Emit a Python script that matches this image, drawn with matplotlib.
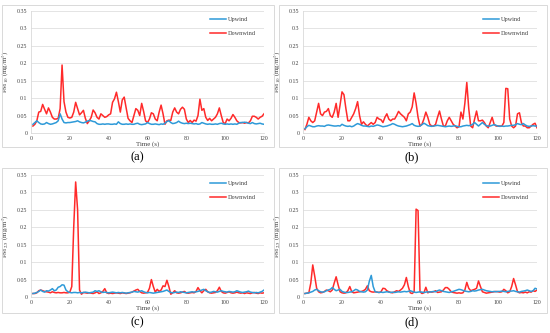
import matplotlib
matplotlib.use("Agg")
import matplotlib.pyplot as plt
from matplotlib.patches import Rectangle

plt.rcParams['font.family'] = ['Liberation Serif', 'DejaVu Serif']
plt.rcParams['mathtext.fontset'] = 'stix'

time_s = list(range(1, 121))

a_up = [.025, .030, .035, .030, .026, .025, .026, .030, .027, .025, .026, .028, .030, .035, .055, .040, .030, .029, .030, .030,
        .031, .032, .033, .035, .032, .030, .029, .031, .034, .036, .035, .033, .032, .027, .025, .025, .026, .025, .026, .026,
        .025, .025, .026, .025, .032, .027, .025, .025, .026, .025, .026, .025, .025, .027, .028, .025, .024, .025, .026, .030,
        .027, .025, .025, .026, .025, .024, .026, .025, .028, .033, .035, .030, .027, .028, .030, .034, .030, .028, .027, .028,
        .027, .028, .027, .026, .027, .025, .026, .030, .028, .026, .025, .026, .025, .025, .026, .025, .027, .028, .026, .025,
        .026, .025, .026, .025, .026, .025, .028, .030, .030, .031, .030, .028, .027, .030, .027, .026, .027, .028, .026, .025]
a_down = [.020, .025, .035, .060, .062, .082, .068, .055, .072, .060, .045, .040, .040, .042, .070, .195, .090, .060, .045, .043,
          .045, .060, .088, .070, .052, .058, .065, .042, .027, .035, .045, .066, .058, .045, .040, .055, .050, .045, .047, .052,
          .055, .088, .098, .117, .090, .060, .095, .103, .072, .042, .035, .030, .050, .070, .065, .050, .085, .062, .035, .030,
          .040, .058, .055, .040, .035, .060, .080, .055, .025, .035, .037, .036, .060, .072, .060, .055, .068, .074, .068, .040,
          .030, .036, .030, .037, .034, .050, .097, .065, .070, .045, .036, .042, .035, .040, .045, .055, .072, .050, .030, .027,
          .040, .035, .042, .053, .045, .035, .030, .029, .030, .028, .030, .029, .035, .048, .048, .045, .040, .045, .048, .055]

b_up = [.012, .018, .022, .020, .018, .018, .020, .021, .020, .020, .019, .022, .023, .022, .021, .020, .020, .021, .020, .025,
        .022, .020, .019, .020, .018, .020, .024, .027, .025, .022, .020, .020, .019, .018, .020, .019, .021, .023, .022, .020,
        .018, .019, .020, .022, .024, .027, .025, .022, .020, .019, .018, .019, .020, .022, .024, .027, .022, .020, .019, .020,
        .024, .028, .025, .021, .020, .019, .020, .021, .022, .021, .020, .019, .018, .019, .020, .019, .020, .021, .019, .018,
        .018, .020, .021, .022, .021, .022, .025, .030, .025, .020, .025, .030, .025, .021, .020, .020, .022, .024, .022, .020,
        .019, .020, .019, .020, .020, .021, .022, .022, .024, .027, .025, .024, .027, .023, .020, .019, .020, .021, .020, .020]
b_down = [.010, .025, .045, .035, .030, .035, .060, .085, .055, .050, .060, .062, .070, .050, .045, .060, .085, .045, .080, .118,
          .110, .070, .035, .035, .045, .055, .070, .090, .050, .025, .032, .025, .020, .025, .030, .025, .030, .045, .040, .038,
          .030, .045, .055, .040, .035, .040, .040, .050, .062, .055, .050, .045, .035, .055, .060, .075, .115, .085, .045, .020,
          .025, .040, .060, .045, .025, .020, .020, .025, .045, .063, .040, .020, .020, .035, .045, .035, .025, .020, .015, .018,
          .060, .040, .085, .145, .070, .020, .015, .040, .063, .035, .035, .037, .030, .020, .015, .030, .045, .025, .020, .020,
          .020, .020, .030, .128, .127, .040, .020, .015, .020, .055, .058, .030, .020, .020, .015, .015, .020, .025, .028, .015]

c_up = [.010, .011, .013, .016, .020, .016, .014, .018, .017, .020, .024, .018, .020, .028, .030, .035, .034, .020, .015, .013,
        .012, .013, .013, .012, .013, .012, .013, .014, .013, .012, .013, .014, .018, .016, .018, .015, .013, .014, .013, .012,
        .013, .014, .013, .012, .013, .012, .013, .012, .011, .012, .013, .014, .016, .015, .014, .016, .018, .015, .013, .012,
        .013, .012, .011, .012, .013, .014, .015, .016, .018, .020, .016, .013, .012, .013, .014, .013, .015, .014, .013, .012,
        .013, .014, .015, .014, .015, .016, .018, .020, .022, .018, .015, .013, .014, .016, .015, .014, .016, .018, .016, .015,
        .014, .016, .015, .014, .015, .018, .016, .014, .013, .014, .015, .017, .014, .013, .012, .013, .012, .014, .016, .020]
c_down = [.010, .010, .012, .018, .020, .018, .016, .015, .014, .012, .015, .013, .012, .013, .012, .012, .013, .012, .012, .014,
          .030, .200, .330, .250, .020, .008, .013, .012, .011, .012, .011, .010, .012, .015, .010, .012, .016, .024, .012, .010,
          .011, .010, .011, .012, .011, .010, .012, .011, .010, .011, .012, .014, .017, .020, .022, .016, .012, .011, .012, .013,
          .025, .050, .030, .014, .022, .016, .020, .032, .030, .048, .030, .008, .012, .018, .012, .011, .012, .014, .016, .012,
          .011, .012, .013, .012, .016, .027, .018, .012, .018, .022, .015, .012, .011, .012, .013, .018, .028, .016, .012, .011,
          .013, .015, .012, .011, .012, .014, .012, .011, .012, .010, .012, .011, .010, .012, .013, .011, .010, .012, .011, .012]

d_up = [.010, .011, .012, .014, .016, .020, .022, .018, .015, .014, .015, .018, .020, .022, .027, .022, .018, .020, .022, .016,
        .014, .013, .013, .014, .015, .018, .022, .020, .016, .015, .014, .015, .020, .045, .062, .030, .015, .014, .013, .014,
        .013, .014, .015, .014, .013, .014, .013, .014, .015, .014, .015, .016, .015, .016, .018, .016, .014, .013, .014, .015,
        .014, .013, .014, .015, .014, .015, .016, .015, .018, .020, .018, .016, .015, .014, .013, .015, .016, .018, .020, .022,
        .021, .019, .017, .016, .015, .016, .018, .017, .018, .020, .021, .022, .020, .018, .017, .016, .015, .016, .015, .016,
        .016, .017, .016, .015, .016, .017, .017, .018, .016, .015, .014, .016, .017, .018, .020, .018, .016, .018, .025, .023]
d_down = [.010, .011, .012, .040, .092, .060, .025, .015, .012, .013, .016, .020, .018, .015, .020, .040, .058, .035, .015, .012,
          .011, .012, .018, .030, .015, .012, .013, .014, .015, .016, .018, .022, .032, .018, .015, .014, .015, .014, .013, .015,
          .025, .024, .018, .015, .013, .012, .015, .018, .016, .020, .025, .035, .056, .030, .012, .010, .015, .252, .248, .015,
          .010, .012, .028, .012, .015, .014, .015, .018, .013, .014, .015, .020, .027, .027, .022, .015, .013, .012, .011, .012,
          .011, .012, .020, .042, .025, .018, .020, .022, .025, .046, .030, .015, .013, .011, .012, .013, .014, .015, .016, .015,
          .014, .015, .022, .018, .012, .015, .030, .053, .035, .015, .012, .013, .012, .014, .012, .015, .014, .018, .016, .020]

panels = [
    ("(a)", "PM$_{10}$ (mg/m$^3$)", a_up, a_down),
    ("(b)", "PM$_{10}$ (mg/m$^3$)", b_up, b_down),
    ("(c)", "PM$_{2.5}$ (mg/m$^3$)", c_up, c_down),
    ("(d)", "PM$_{2.5}$ (mg/m$^3$)", d_up, d_down),
]

y_ticks = [0, 0.05, 0.1, 0.15, 0.2, 0.25, 0.3, 0.35]
y_tick_labels = ["0", "0.05", "0.1", "0.15", "0.2", "0.25", "0.3", "0.35"]
x_ticks = [0, 20, 40, 60, 80, 100, 120]

W, H = 550, 333
fig = plt.figure(figsize=(5.5, 3.33), dpi=100)

# pixel layout: axes box, frame box, label centre
axes_px = [(31, 11, 264, 133), (303, 11, 537, 133), (31, 175, 264, 297), (303, 175, 537, 297)]
frame_px = [(2, 5, 274, 147), (279, 5, 547, 147), (2, 168, 274, 313), (279, 168, 547, 313)]
label_px = [(137, 157), (412, 157), (137, 322), (412, 322)]

grid_c = "#d9d9d9"
for (lab, ylab, up, down), (x0, y0, x1, y1), fr, lp in zip(panels, axes_px, frame_px, label_px):
    fig.patches.append(Rectangle((fr[0] / W, 1 - fr[3] / H), (fr[2] - fr[0]) / W, (fr[3] - fr[1]) / H,
                                 transform=fig.transFigure, fill=False, edgecolor=grid_c, linewidth=0.7))
    ax = fig.add_axes([x0 / W, 1 - y1 / H, (x1 - x0) / W, (y1 - y0) / H])
    ax.plot(time_s, up, color="#2e9ad8", lw=1.1, label="Upwind", zorder=3)
    ax.plot(time_s, down, color="#ff2a2a", lw=1.1, label="Downwind", zorder=2)
    ax.set_xlim(0, 120)
    ax.set_ylim(0, 0.35)
    ax.set_xticks(x_ticks)
    ax.set_yticks(y_ticks)
    ax.set_yticklabels(y_tick_labels)
    ax.tick_params(length=0, labelsize=4.2, colors="#404040", pad=2.5)
    ax.tick_params(axis="x", pad=2)
    ax.grid(axis="y", color=grid_c, lw=0.5)
    ax.set_axisbelow(True)
    for s in ("top", "right"):
        ax.spines[s].set_visible(False)
    for s in ("left", "bottom"):
        ax.spines[s].set_color(grid_c)
        ax.spines[s].set_linewidth(0.6)
    ax.set_xlabel("Time (s)", fontsize=5, color="#404040", labelpad=0.5)
    ax.set_ylabel(ylab, fontsize=5, color="#404040", labelpad=4)
    ax.legend(loc="upper right", bbox_to_anchor=(0.99, 1.0), frameon=False, fontsize=4.5,
              handlelength=2.5, labelspacing=1.4, handletextpad=0.4, labelcolor="#404040")
    fig.text(lp[0] / W, 1 - lp[1] / H, lab, fontsize=9, ha="center", va="center")

fig.savefig("out.png", dpi=100)
